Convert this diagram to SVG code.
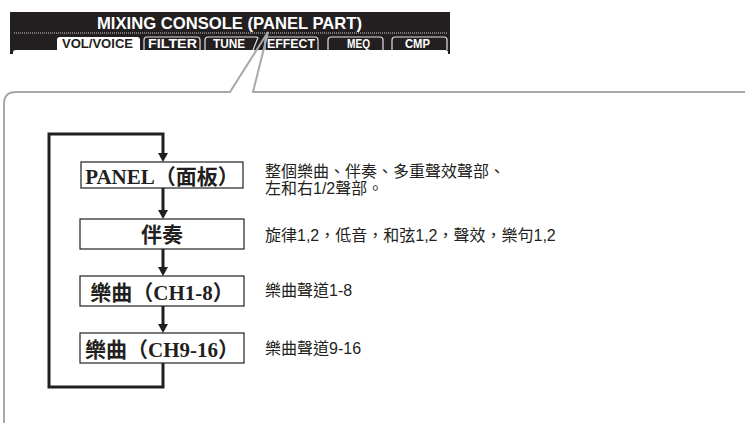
<svg xmlns="http://www.w3.org/2000/svg" width="745" height="423" viewBox="0 0 745 423">
<defs>
<style>
.box{fill:#fff;stroke:#231f20;stroke-width:1.2}
.bt{font-family:"Liberation Serif","Noto Sans CJK TC",serif;font-weight:bold;font-size:21px;fill:#231f20;text-anchor:middle}
.dt{font-family:"Liberation Sans","Noto Sans CJK TC",sans-serif;font-size:16px;fill:#231f20}
.flow{fill:none;stroke:#231f20;stroke-width:3}
.tab{fill:none;stroke:#e0e0e0;stroke-width:1.2}
.tt{font-family:"Liberation Sans",sans-serif;font-weight:bold;font-size:12px;fill:#fff}
.call{fill:none;stroke:#a8a8a8;stroke-width:2}
</style>
<marker id="ah" markerUnits="userSpaceOnUse" markerWidth="10" markerHeight="10" refX="0" refY="5" orient="auto">
<path d="M0,0 L9,5 L0,10 z" fill="#231f20"/>
</marker>
</defs>
<rect width="745" height="423" fill="#fff"/>
<g id="header">
<rect x="10" y="12" width="440" height="42" fill="#231f20"/>
<text x="97" y="28.5" font-family="Liberation Sans,sans-serif" font-weight="bold" font-size="17" fill="#fff" textLength="265" lengthAdjust="spacingAndGlyphs">MIXING CONSOLE (PANEL PART)</text>
<line x1="14" y1="33" x2="447" y2="33" stroke="#cfcfcf" stroke-width="1" stroke-dasharray="1 1"/>
<path d="M13,54 L13,52 Q13,50 16,50 L57,50 L57,40 Q57,37 60,37 L137,37 Q140,37 140,40 L140,50 L445,50 Q448,50 448,52 L448,54 z" fill="#fff"/>
<text class="tt" x="62" y="48" style="fill:#231f20" textLength="71" lengthAdjust="spacingAndGlyphs">VOL/VOICE</text>
<path class="tab" d="M144,50 L144,40 Q144,37 147,37 L197,37 Q200,37 200,40 L200,50"/>
<path class="tab" d="M205,50 L205,40 Q205,37 208,37 L256,37 Q259,37 257,40 L253,50"/>
<path class="tab" d="M265,50 L265,40 Q265,37 268,37 L315,37 Q318,37 318,40 L318,50"/>
<path class="tab" d="M328,50 L328,40 Q328,37 331,37 L380,37 Q383,37 383,40 L383,50"/>
<path class="tab" d="M392,50 L392,40 Q392,37 395,37 L444,37 Q447,37 447,40 L447,50"/>
<text class="tt" x="148" y="48" textLength="49" lengthAdjust="spacingAndGlyphs">FILTER</text>
<text class="tt" x="213" y="48" textLength="32" lengthAdjust="spacingAndGlyphs">TUNE</text>
<text class="tt" x="267" y="48" textLength="48" lengthAdjust="spacingAndGlyphs">EFFECT</text>
<text class="tt" x="347" y="48" textLength="23" lengthAdjust="spacingAndGlyphs">MEQ</text>
<text class="tt" x="405" y="48" textLength="25" lengthAdjust="spacingAndGlyphs">CMP</text>
</g>
<g id="callout">
<path class="call" d="M745,92 L253,92 L268,32 L230,92 L16,92 Q4,92 4,104 L4,423"/>
</g>
<g id="connectors">
<path class="flow" d="M163,363 L163,387 L49,387 L49,134 L163,134 L163,153" marker-end="url(#ah)"/>
<path class="flow" d="M163,188 L163,210" marker-end="url(#ah)"/>
<path class="flow" d="M163,249 L163,267" marker-end="url(#ah)"/>
<path class="flow" d="M163,306 L163,324" marker-end="url(#ah)"/>
</g>
<g id="node-panel">
<rect class="box" x="81" y="162" width="162" height="26"/>
<text class="bt" x="162" y="183.5">PANEL（面板）</text>
</g>
<g id="node-acmp">
<rect class="box" x="80" y="219" width="164" height="30"/>
<text class="bt" x="162" y="242">伴奏</text>
</g>
<g id="node-ch1-8">
<rect class="box" x="80" y="276" width="164" height="30"/>
<text class="bt" x="162" y="299.5">樂曲（CH1-8）</text>
</g>
<g id="node-ch9-16">
<rect class="box" x="80" y="333" width="164" height="30"/>
<text class="bt" x="162" y="356.5">樂曲（CH9-16）</text>
</g>
<g id="descriptions">
<text class="dt" x="265" y="177">整個樂曲、伴奏、多重聲效聲部、</text>
<text class="dt" x="265" y="194">左和右1/2聲部。</text>
<text class="dt" x="265" y="240.5">旋律1,2，低音，和弦1,2，聲效，樂句1,2</text>
<text class="dt" x="265" y="296">樂曲聲道1-8</text>
<text class="dt" x="265" y="354">樂曲聲道9-16</text>
</g>
</svg>
